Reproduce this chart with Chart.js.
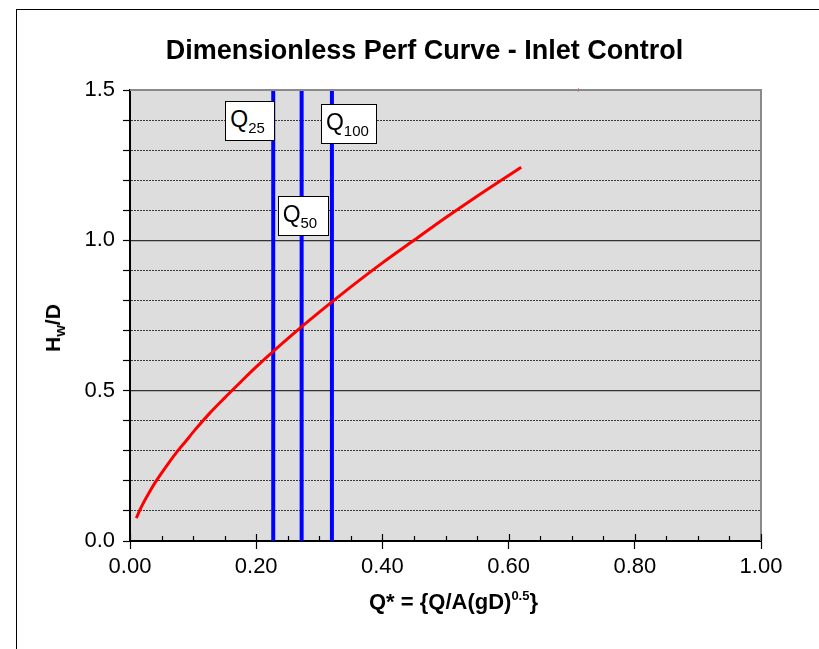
<!DOCTYPE html>
<html><head><meta charset="utf-8">
<script src="https://cdn.jsdelivr.net/npm/chart.js@4.4.0/dist/chart.umd.min.js"></script>
<style>
html,body{margin:0;padding:0;background:#fff;overflow:hidden}
#wrap{position:relative;width:819px;height:649px;font-family:"Liberation Sans",Arial,sans-serif;color:#000}
#frame{position:absolute;left:16px;top:9px;width:900px;height:800px;border-left:1px solid #000;border-top:1px solid #000}
#c{position:absolute;left:0;top:0}
#title{position:absolute;left:16px;width:817px;top:36px;line-height:28px;text-align:center;font-weight:bold;font-size:27px;white-space:nowrap}
.qbox{position:absolute;background:#fff;border:1.5px solid #000;box-sizing:border-box;height:40px;padding:6px 0 0 4px;line-height:23px;font-size:23px;white-space:nowrap}
.qbox span{font-size:15px;position:relative;top:5.5px}
#xtitle{position:absolute;font-weight:bold;font-size:22px;white-space:nowrap;transform:translate(-50%,0)}
#xtitle sup{font-size:13px;position:relative;top:-1px}
#ytitle{position:absolute;font-weight:bold;font-size:21px;white-space:nowrap;transform:translate(-50%,-50%) rotate(-90deg)}
#ytitle span{font-size:15px;position:relative;top:5px}
</style></head>
<body><div id="wrap">
<div id="frame"></div>
<canvas id="c" width="819" height="649"></canvas>
<div id="title">Dimensionless Perf Curve - Inlet Control</div>
<div id="xtitle">Q* = {Q/A(gD)<sup>0.5</sup>}</div>
<div id="ytitle">H<span>w</span>/D</div>
</div>
<script>
// Performance curve
const qStar = [0.01, 0.015, 0.02, 0.03, 0.04, 0.05, 0.06, 0.075, 0.09, 0.10, 0.125, 0.15, 0.175, 0.20, 0.25, 0.30, 0.35, 0.40, 0.45, 0.50, 0.55, 0.60, 0.62];
const hwD   = [0.076, 0.10, 0.122, 0.16, 0.195, 0.226, 0.256, 0.298, 0.336, 0.362, 0.422, 0.476, 0.528, 0.579, 0.673, 0.761, 0.845, 0.925, 1.0, 1.075, 1.147, 1.216, 1.243];
// Design flows (vertical lines)
const designNames = ['25', '50', '100'];
const designQ = [0.227, 0.272, 0.320];
// Stray red mark at top border
const strayQ = [0.709, 0.712];
const strayH = [1.497, 1.503];
// Axis ranges / ticks
const xMin = 0, xMax = 1.0, xMinorStep = 0.05, xMajorStep = 0.2;
const yMin = 0, yMax = 1.5, yMinorStep = 0.1, yMajorStep = 0.5;

const isMult = (v, s) => Math.abs(v / s - Math.round(v / s)) < 1e-6;

const datasets = [];
datasets.push({
  label: 'curve',
  data: qStar.map((x, i) => ({x, y: hwD[i]})),
  borderColor: '#ff0000', borderWidth: 3, pointRadius: 0,
  cubicInterpolationMode: 'monotone', fill: false
});
designQ.forEach((q, i) => {
  datasets.push({
    label: 'Q' + designNames[i],
    data: [{x: q, y: yMin}, {x: q, y: yMax}],
    borderColor: '#0000ff', borderWidth: 4, pointRadius: 0, fill: false
  });
});
datasets.push({
  label: 'stray',
  data: strayQ.map((x, i) => ({x, y: strayH[i]})),
  borderColor: '#ff0000', borderWidth: 2, pointRadius: 0, fill: false, clip: 3
});

const plotPlugin = {
  id: 'plotbg',
  beforeDraw(chart) {
    const a = chart.chartArea, ctx = chart.ctx;
    ctx.save();
    ctx.fillStyle = '#dddddd';
    ctx.fillRect(a.left, a.top, a.right - a.left, a.bottom - a.top);
    ctx.restore();
  },
  afterDraw(chart) {
    const a = chart.chartArea, ctx = chart.ctx, xs = chart.scales.x;
    ctx.save();
    ctx.strokeStyle = '#8a8a8a';
    ctx.lineWidth = 2;
    ctx.beginPath();
    ctx.moveTo(a.left, a.top);
    ctx.lineTo(a.right, a.top);
    ctx.lineTo(a.right, a.bottom);
    ctx.stroke();
    // inward x tick marks
    ctx.strokeStyle = '#000';
    ctx.lineWidth = 1.2;
    xs.ticks.forEach(t => {
      const px = Math.round(xs.getPixelForValue(t.value)) + 0.5;
      const len = isMult(t.value, xMajorStep) ? 7 : 5;
      ctx.beginPath();
      ctx.moveTo(px, a.bottom);
      ctx.lineTo(px, a.bottom - len);
      ctx.stroke();
    });
    ctx.restore();
  }
};

const chart = new Chart(document.getElementById('c'), {
  type: 'line',
  data: {datasets},
  plugins: [plotPlugin],
  options: {
    responsive: false, animation: false, events: [],
    layout: {padding: {top: 90, right: 58, left: 0, bottom: 0}},
    plugins: {legend: {display: false}, tooltip: {enabled: false}, title: {display: false}},
    scales: {
      x: {
        type: 'linear', min: xMin, max: xMax,
        ticks: {
          stepSize: xMinorStep, autoSkip: false, maxRotation: 0, padding: 5,
          color: '#000', font: {family: '"Liberation Sans", Arial, sans-serif', size: 22},
          callback: v => isMult(v, xMajorStep) ? v.toFixed(2) : ''
        },
        grid: {
          drawOnChartArea: false, tickLength: 8, tickWidth: 1.2,
          tickColor: ctx => (ctx.tick && isMult(ctx.tick.value, xMajorStep)) ? '#000' : 'rgba(0,0,0,0)'
        },
        border: {color: '#000', width: 2},
        afterFit: s => { s.height = 108; }
      },
      y: {
        type: 'linear', position: 'left', min: yMin, max: yMax,
        ticks: {
          stepSize: yMinorStep, autoSkip: false, padding: 8,
          color: '#000', font: {family: '"Liberation Sans", Arial, sans-serif', size: 22},
          callback: v => isMult(v, yMajorStep) ? v.toFixed(1) : ''
        },
        grid: {color: '#3a3a3a', lineWidth: 1, tickLength: 7, tickColor: '#000', tickWidth: 1.2},
        border: {color: '#000', width: 2, dash: [2, 1]},
        afterFit: s => { s.width = 130; }
      },
      y2: {
        type: 'linear', position: 'left', min: yMin, max: yMax,
        ticks: {stepSize: yMajorStep, display: false},
        grid: {color: '#333', lineWidth: 1.3, drawTicks: false, tickLength: 0},
        border: {display: false},
        afterFit: s => { s.width = 0; }
      }
    }
  }
});

// Place HTML labels using the chart scales
const xs = chart.scales.x, ys = chart.scales.y, area = chart.chartArea;
const boxSpecs = [
  {i: 0, anchorY: 1.463, dx: -48, w: 50},
  {i: 1, anchorY: 1.147, dx: -24, w: 51},
  {i: 2, anchorY: 1.453, dx: -11, w: 56}
];
const wrap = document.getElementById('wrap');
boxSpecs.forEach(b => {
  const d = document.createElement('div');
  d.className = 'qbox';
  d.innerHTML = 'Q<span>' + designNames[b.i] + '</span>';
  const px = xs.getPixelForValue(designQ[b.i]);
  d.style.left = (px + b.dx) + 'px';
  d.style.top = ys.getPixelForValue(b.anchorY) + 'px';
  d.style.width = b.w + 'px';
  wrap.appendChild(d);
});
const xt = document.getElementById('xtitle');
xt.style.left = ((area.left + area.right) / 2 + 8) + 'px';
xt.style.top = (area.bottom + 48) + 'px';
const yt = document.getElementById('ytitle');
yt.style.left = '53px';
yt.style.top = ((area.top + area.bottom) / 2 + 12) + 'px';
</script>
</body></html>
